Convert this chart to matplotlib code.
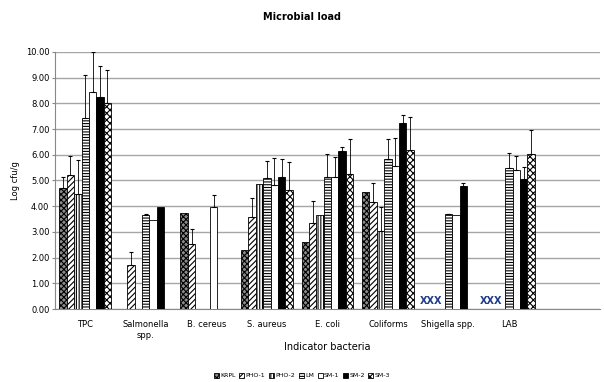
import numpy as np
import matplotlib
matplotlib.use('Agg')
import matplotlib.pyplot as plt

# categories (9th slot is empty in the original chart)
categories = ['TPC', 'Salmonella\nspp.', 'B. cereus', 'S. aureus', 'E. coli',
              'Coliforms', 'Shigella spp.', 'LAB', '']
series = ['KRPL', 'PHO-1', 'PHO-2', 'LM', 'SM-1', 'SM-2', 'SM-3']

# mean log cfu/g per series (one value per category)
krpl = [4.72, 0.00, 3.72, 2.30, 2.60, 4.54, 0.00, 0.00, 0]
pho1 = [5.20, 1.70, 2.52, 3.57, 3.33, 4.16, 0.00, 0.00, 0]
pho2 = [4.48, 0.00, 0.00, 4.88, 3.64, 3.03, 0.00, 0.00, 0]
lm   = [7.45, 3.67, 0.00, 5.10, 5.15, 5.82, 3.68, 5.49, 0]
sm1  = [8.45, 3.45, 3.98, 4.82, 5.15, 5.56, 3.65, 5.41, 0]
sm2  = [8.25, 3.98, 0.00, 5.13, 6.16, 7.22, 4.79, 5.05, 0]
sm3  = [8.00, 0.00, 0.00, 4.62, 5.24, 6.17, 0.00, 6.04, 0]

# upper error (standard deviation)
krpl_err = [0.43, 0, 0, 0, 0, 0, 0, 0, 0]
pho1_err = [0.75, 0.50, 0.58, 0.73, 0.88, 0.76, 0, 0, 0]
pho2_err = [1.32, 0, 0, 0, 0, 0.95, 0, 0, 0]
lm_err   = [1.65, 0.03, 0, 0.65, 0.88, 0.81, 0.03, 0.59, 0]
sm1_err  = [1.55, 0, 0.47, 1.06, 0.78, 1.09, 0, 0.56, 0]
sm2_err  = [1.20, 0, 0, 0.72, 0.15, 0.34, 0.11, 0.49, 0]
sm3_err  = [1.30, 0, 0, 1.10, 1.36, 1.31, 0, 0.93, 0]

values = [krpl, pho1, pho2, lm, sm1, sm2, sm3]
errors = [krpl_err, pho1_err, pho2_err, lm_err, sm1_err, sm2_err, sm3_err]

styles = [
    dict(facecolor='#8c8c8c', hatch='xxxxxx'),
    dict(facecolor='white', hatch='//////'),
    dict(facecolor='white', hatch='||||||'),
    dict(facecolor='white', hatch='------'),
    dict(facecolor='white', hatch=''),
    dict(facecolor='black', hatch=''),
    dict(facecolor='white', hatch='xxxxx'),
]

plt.rcParams['hatch.linewidth'] = 0.8
plt.rcParams['font.family'] = ['DejaVu Sans']

fig = plt.figure(figsize=(6.04, 3.82), dpi=100)
ax = fig.add_axes([0.091, 0.191, 0.902, 0.673])

x = np.arange(len(categories))
width = 0.122
for i, (name, vals, errs, st) in enumerate(zip(series, values, errors, styles)):
    pos = x + (i - 3) * width
    ax.bar(pos, vals, width, color=st['facecolor'], hatch=st['hatch'],
           edgecolor='black', linewidth=0.6, label=name, zorder=3)
    e = np.array(errs)
    mask = e > 0
    ax.errorbar(pos[mask], np.array(vals)[mask],
                yerr=[np.zeros(mask.sum()), e[mask]],
                fmt='none', ecolor='black', elinewidth=0.6, capsize=1.5,
                capthick=0.8, zorder=4)

# not detected markers
for cx in [6, 7]:
    ax.text(cx - 0.29, 0.3, 'XXX', color='#1f3a8a', fontsize=7,
            fontweight='bold', ha='center', va='center', zorder=5)

ax.set_xlim(-0.5, len(categories) - 0.5)
ax.set_ylim(0, 10)
ax.set_yticks(np.arange(0, 10.01, 1))
ax.set_yticklabels([f'{v:.2f}' for v in np.arange(0, 10.01, 1)], fontsize=6)
ax.set_xticks(x)
ax.set_xticklabels(categories, fontsize=6)
ax.tick_params(axis='x', length=0, pad=8)
ax.tick_params(axis='y', length=2, color='#888888', pad=2)
ax.grid(axis='y', color='#a6a6a6', linewidth=1.0, zorder=0)
ax.set_axisbelow(True)
for s in ['top', 'right']:
    ax.spines[s].set_visible(False)
ax.spines['left'].set_color('#888888')
ax.spines['bottom'].set_color('#888888')

ax.set_ylabel('Log cfu/g', fontsize=6, labelpad=4)
ax.set_xlabel('Indicator bacteria', fontsize=7, labelpad=2)
fig.text(0.5, 0.955, 'Microbial load', fontsize=7, fontweight='bold', ha='center', va='center')

fig.legend(loc='lower center', bbox_to_anchor=(0.5, -0.005), ncol=7, fontsize=4.5,
           frameon=False, handlelength=0.8, handleheight=0.8, handletextpad=0.2,
           columnspacing=0.6)

fig.savefig('out.png', dpi=100, facecolor='white')
